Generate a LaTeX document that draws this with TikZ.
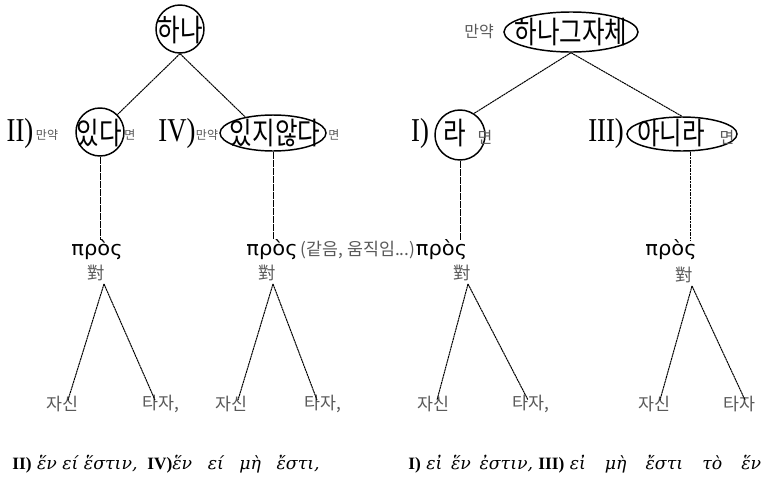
\documentclass[tikz,border=0pt]{standalone}
\usepackage{fontspec}
\setmainfont{Liberation Serif}
\newfontfamily\kr{Noto Sans CJK KR}
\newfontfamily\krbig[FakeStretch=0.8]{Noto Sans CJK KR}
\newfontfamily\romanbig[FakeStretch=0.8]{Liberation Serif}
\newfontfamily\grsans[FakeStretch=1.05]{DejaVu Sans}
\newfontfamily\grserif{DejaVu Serif}
\usetikzlibrary{shapes.geometric}
\definecolor{soft}{gray}{0.35}
\begin{document}
\begin{tikzpicture}[x=0.75pt,y=-0.75pt,
  ring/.style={draw, line width=1.1pt, circle, inner sep=0pt, minimum size=#1},
  oval/.style={draw, line width=1.1pt, ellipse, inner sep=0pt},
  bigkr/.style={inner sep=0pt, font=\krbig\fontsize{23}{23}\selectfont},
  smallkr/.style={inner sep=0pt, text=soft, font=\kr\fontsize{9}{9}\selectfont},
  midkr/.style={inner sep=0pt, text=soft, font=\kr\fontsize{12}{12}\selectfont},
  roman/.style={inner sep=0pt, font=\romanbig\fontsize{25}{25}\selectfont},
  pros/.style={inner sep=0pt, font=\grsans\fontsize{15}{15}\selectfont},
  duinode/.style={inner sep=0pt, text=soft, font=\kr\fontsize{13}{13}\selectfont},
  leaf/.style={inner sep=0pt, text=soft, font=\kr\fontsize{13}{13}\selectfont},
  greekrow/.style={inner sep=0pt, anchor=west, font=\grserif\itshape\fontsize{13}{13}\selectfont},
  conn/.style={line width=0.75pt, dash pattern=on 1.6pt off 0.4pt}
]
\useasboundingbox (0,0) rectangle (762,482);

% ---------- left tree: top ----------
\node[ring=36pt] (hana) at (180,29) {};
\node[bigkr] (hanat) at (180,30) {하나};

% row 2 left
\node[roman] (n2) at (20,133) {II)};
\node[smallkr] (if2) at (47,135) {만약};
\node[ring=36pt] (issda) at (100,132) {};
\node[bigkr] (issdat) at (99,133) {있다};
\node[smallkr] (myeon2) at (130,135) {면};

\node[roman] (n4) at (177,133) {IV)};
\node[smallkr] (if4) at (207,135) {만약};
\node[oval, minimum width=79.5pt, minimum height=27pt] (ianh) at (273,133) {};
\node[bigkr] (ianht) at (275,133) {있지않다};
\node[smallkr] (myeon4) at (334,135) {면};

% ---------- right tree: top ----------
\node[midkr] (ifr) at (479,32) {만약};
\node[oval, minimum width=100.5pt, minimum height=30pt] (hgj) at (571,32) {};
\node[bigkr] (hgjt) at (571,32) {하나그자체};

\node[roman] (n1) at (420,133) {I)};
\node[ring=37.5pt] (ra) at (460,135) {};
\node[bigkr] (rat) at (455,133) {라};
\node[midkr] (myeon1) at (485,137) {면};

\node[roman] (n3) at (606,133) {III)};
\node[oval, minimum width=82.5pt, minimum height=25.5pt] (anira) at (682,134) {};
\node[bigkr] (anirat) at (671,133) {아니라};
\node[midkr] (myeon3) at (727,137) {면};

% top connectors
\draw[conn] (hana.south) -- (issda.45);
\draw[conn] (hana.south) -- (ianh.150);
\draw[conn] (hgj.south) -- (ra.57);
\draw[conn] (hgj.south) -- (anira.north);

% ---------- pros row ----------
\node[pros] (pros1) at (97,250) {πρὸς};
\node[pros] (pros2) at (272,250) {πρὸς};
\node[inner sep=0pt, anchor=west, text=soft, font=\kr\fontsize{13}{13}\selectfont] (note) at ([xshift=2]pros2.east) {(같음, 움직임...)};
\node[pros, anchor=west] (pros3) at (note.east) {πρὸς};
\node[pros] (pros4) at (671,250) {πρὸς};

\draw[conn] (issda.south) -- (issda.south |- pros1.north);
\draw[conn] (ianh.south) -- (ianh.south |- pros2.north);
\draw[conn] (ra.south) -- (ra.south |- pros3.north);
\draw[conn] (anira.295) -- (anira.295 |- pros4.north);

% ---------- 對 ----------
\node[duinode] (dui1) at (96,273) {對};
\node[duinode] (dui2) at (267,273) {對};
\node[duinode] (dui3) at (462,273) {對};
\node[duinode] (dui4) at (684,275) {對};

\coordinate (ap1) at (104,284);
\coordinate (ap2) at (273,284);
\coordinate (ap3) at (468,284);
\coordinate (ap4) at (692,286);

% ---------- leaves ----------
\node[leaf] (js1) at (62,404) {자신};
\node[leaf] (tj1) at (161,404) {타자,};
\node[leaf] (js2) at (231,404) {자신};
\node[leaf] (tj2) at (323,404) {타자,};
\node[leaf] (js3) at (433,404) {자신};
\node[leaf] (tj3) at (531,404) {타자,};
\node[leaf] (js4) at (654,404) {자신};
\node[leaf] (tj4) at (739,404) {타자};

\coordinate (e1l) at (68,400);
\coordinate (e1r) at (155,400);
\coordinate (e2l) at (238,400);
\coordinate (e2r) at (317,400);
\coordinate (e3l) at (437,400);
\coordinate (e3r) at (528,400);
\coordinate (e4l) at (660,400);
\coordinate (e4r) at (745,400);

\draw[conn] (ap1) -- (e1l); \draw[conn] (ap1) -- (e1r);
\draw[conn] (ap2) -- (e2l); \draw[conn] (ap2) -- (e2r);
\draw[conn] (ap3) -- (e3l); \draw[conn] (ap3) -- (e3r);
\draw[conn] (ap4) -- (e4l); \draw[conn] (ap4) -- (e4r);

% ---------- bottom Greek row ----------
\node[greekrow] (g1) at (12,464) {{\rmfamily\upshape\bfseries II)} ἕν εί ἕστιν,};
\node[greekrow] (g2) at (147,464) {{\rmfamily\upshape\bfseries IV)}ἕν\hspace{0.9em}εί\hspace{0.9em}μὴ\hspace{0.9em}ἔστι,};
\node[greekrow] (g3) at (408,464) {{\rmfamily\upshape\bfseries I)} εἰ\hspace{0.5em}ἕν\hspace{0.5em}ἐστιν,};
\node[greekrow] (g4) at (538,464) {{\rmfamily\upshape\bfseries III)} εἰ\hspace{1.1em}μὴ\hspace{1.1em}ἔστι\hspace{1.1em}τὸ\hspace{1.1em}ἕν};
\end{tikzpicture}
\end{document}
